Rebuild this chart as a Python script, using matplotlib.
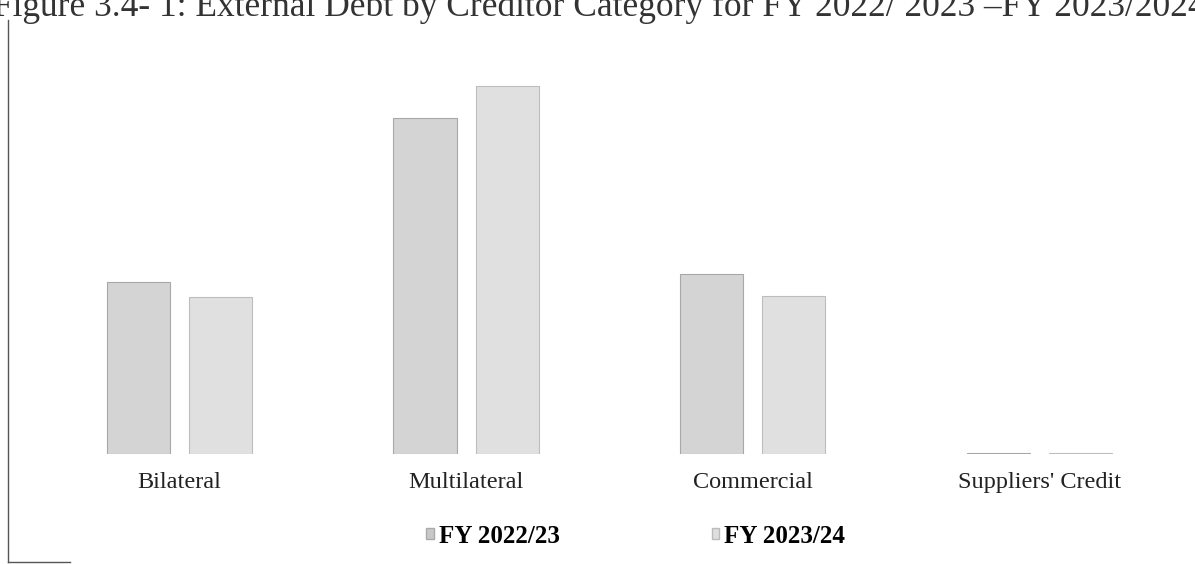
import numpy as np
import matplotlib.pyplot as plt
from matplotlib.patches import Patch
from matplotlib.lines import Line2D

# external debt by creditor category (US$ million)
categories = ["Bilateral", "Multilateral", "Commercial", "Suppliers' Credit"]
fy_2022_23 = [2610, 5100, 2730, 15]
fy_2023_24 = [2380, 5600, 2400, 8]
series_names = ["FY 2022/23", "FY 2023/24"]

plt.rcParams["font.family"] = ["Liberation Serif", "DejaVu Serif"]

fig = plt.figure(figsize=(11.95, 5.64), dpi=100)
ax = fig.add_axes([0.03, 0.195, 0.96, 0.70])

x = np.arange(len(categories))
w = 0.22
ax.bar(x - 0.143, fy_2022_23, w, color="#d4d4d4", edgecolor="#a8a8a8", linewidth=0.8)
ax.bar(x + 0.143, fy_2023_24, w, color="#e0e0e0", edgecolor="#bdbdbd", linewidth=0.8)

ax.set_xlim(-0.5, 3.5)
ax.set_ylim(0, 6000)
ax.set_xticks(x)
ax.set_xticklabels(categories, fontsize=17.5, color="#222222")
ax.tick_params(axis="x", length=0, pad=13)
ax.set_yticks([])
for s in ax.spines.values():
    s.set_visible(False)

handles = [Patch(facecolor="#c8c8c8", edgecolor="#aaaaaa"),
           Patch(facecolor="#dedede", edgecolor="#bbbbbb")]
fig.legend(handles, series_names, loc="center", bbox_to_anchor=(0.532, 0.049),
           ncol=2, frameon=False, handlelength=0.3, handleheight=0.3,
           handletextpad=0.2, columnspacing=6.1,
           prop={"size": 18, "weight": "bold"})

# title, cut off at the top of the scan
fig.text(-0.006, 1 - 16 / 564, "Figure 3.4- 1: External Debt by Creditor Category for FY 2022/ 2023 \u2013FY 2023/2024",
         fontsize=25.5, color="#333333", va="baseline", ha="left")

# scan frame on the left
fig.add_artist(Line2D([8 / 1195, 8 / 1195], [1 - 20 / 564, 1 - 562 / 564], color="#555555", lw=1))
fig.add_artist(Line2D([8 / 1195, 70 / 1195], [1 - 562 / 564, 1 - 562 / 564], color="#555555", lw=1))

fig.savefig("out.png", dpi=100)
